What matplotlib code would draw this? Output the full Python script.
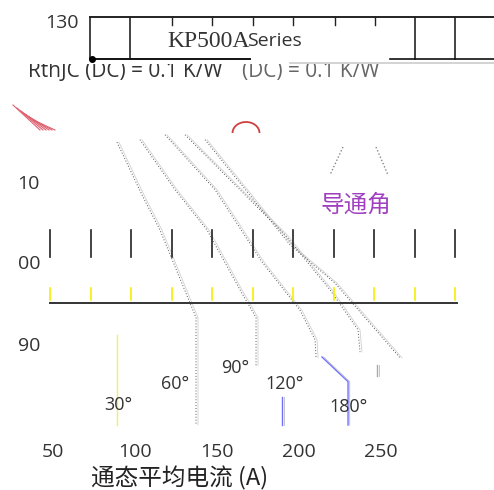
import matplotlib.pyplot as plt
from matplotlib.patches import Arc, Rectangle

plt.rcParams['font.family'] = ['Noto Sans CJK SC', 'DejaVu Sans']

# derating curves: average current (A) vs case temperature (°C)
angles = ["60°", "90°", "120°", "180°", "DC"]
curve_a = [
    [89.0, 104.9, 115.2, 133.5, 137.2, 137.2],
    [103.0, 124.4, 143.9, 164.0, 173.8, 173.8],
    [118.3, 148.8, 177.4, 200.6, 209.8, 210.4],
    [130.5, 164.0, 191.5, 218.9, 236.0, 237.2],
    [142.7, 194.5, 222.0, 261.6],
]
curve_t = [
    [115.1, 108.4, 104.4, 95.5, 93.7, 80.6],
    [115.4, 109.3, 104.4, 97.1, 93.7, 87.9],
    [116.0, 109.3, 100.5, 94.6, 91.0, 88.8],
    [116.0, 109.3, 103.8, 97.1, 92.2, 89.5],
    [115.4, 102.6, 97.9, 88.8],
]

# broken fragments near the bottom
frag_a = [[214.0, 229.9, 229.9], [189.6, 189.6], [89.0, 89.0], [247.6, 247.6]]
frag_t = [[88.9, 85.9, 80.6], [84.0, 80.6], [91.6, 80.6], [87.9, 86.6]]
frag_c = ["#7070ff", "#7070ff", "#f0f060", "#aaaaaa"]

angle_labels = ["30°", "60°", "90°", "120°", "180°"]
angle_lab_a = [89.6, 124.4, 161.0, 191.2, 229.9]
angle_lab_t = [83.1, 85.6, 87.6, 85.6, 82.8]

x_ticks = [50, 100, 150, 200, 250]
y_ticks = ["130", "10", "00", "90"]
y_tick_t = [129.6, 110.0, 100.2, 90.2]

x0, x1 = 17.68, 318.9
y0, y1 = 72.68, 132.44


def px(x):
    return x0 + (x1 - x0) * x / 494


def py(y):
    return y1 - (y1 - y0) * y / 490


fig = plt.figure(figsize=(4.94, 4.90), dpi=100)
ax = fig.add_axes([0, 0, 1, 1])
ax.set_xlim(x0, x1)
ax.set_ylim(y0, y1)
ax.axis('off')

# curves: dotted dark line plus a faint parallel line
for a, t in zip(curve_a, curve_t):
    ax.plot(a, t, color="#555555", lw=0.7, ls=(0, (1, 2)), zorder=3)
    ax.plot([v + 1.2 for v in a], t, color="#d0d0d0", lw=0.6, zorder=2)

for a, t, c in zip(frag_a, frag_t, frag_c):
    ax.plot(a, t, color=c, lw=1.0, zorder=2)
    if c != "#f0f060":
        ax.plot([v + 1.0 for v in a], t, color="#bbbbbb", lw=0.6, zorder=2)

# top frame pieces
ax.plot([px(90), px(494)], [py(17), py(17)], color="#222222", lw=1.4, zorder=4)
for x in [90, 130, 415, 455]:
    ax.plot([px(x), px(x)], [py(17), py(59)], color="#222222", lw=1.2, zorder=4)
for x in [172, 212, 253, 293, 335, 375]:
    ax.plot([px(x), px(x)], [py(17), py(25)], color="#222222", lw=1.0, zorder=4)
ax.plot([px(90), px(250)], [py(59), py(59)], color="#111111", lw=1.4, zorder=4)
ax.plot([px(390), px(494)], [py(59), py(59)], color="#111111", lw=1.2, zorder=4)
ax.plot([px(290), px(494)], [py(63), py(63)], color="#cccccc", lw=1.2, zorder=4)
ax.plot([px(92)], [py(59)], "o", color="black", ms=4, zorder=5)

# tick rows and horizontal line
tick_px = [50 + 40.5 * i for i in range(11)]
for x in tick_px:
    ax.plot([px(x), px(x)], [py(230), py(257)], color="#222222", lw=1.2, zorder=4)
    ax.plot([px(x), px(x)], [py(288), py(300)], color="#f4f000", lw=1.2, zorder=4)
ax.plot([px(50), px(457)], [py(303), py(303)], color="#333333", lw=1.4, zorder=4)

# titles
ax.text(px(167), py(41), "KP500A", family="Liberation Serif", fontsize=17,
        color="#333333", va="center", ha="left", zorder=3)
ax.text(px(247), py(41), "Series", family="Open Sans", fontsize=14,
        color="#333333", va="center", ha="left", zorder=3)
ax.text(px(28), py(72), "RthJC (DC) = 0.1 K/W", family="Open Sans", fontsize=15,
        color="#333333", va="center", ha="left", zorder=1)
ax.text(px(242), py(72), "(DC) = 0.1 K/W", family="Open Sans", fontsize=15,
        color="#666666", va="center", ha="left", zorder=1)
ax.add_patch(Rectangle((px(20), py(64)), px(494) - px(20), py(51) - py(64),
                       facecolor="white", edgecolor="none", zorder=2))

# waveform icons
ax.add_patch(Arc((px(246), py(133)), px(273) - px(246), py(111) - py(133),
                 theta1=0, theta2=180, color="#d04040", lw=1.3, zorder=3))
ax.plot([px(343), px(330)], [py(147), py(175)], color="#888888", lw=1, ls=(0, (1, 1.5)))
ax.plot([px(376), px(388)], [py(147), py(175)], color="#888888", lw=1, ls=(0, (1, 1.5)))
ax.text(px(356), py(205), "导通角", fontsize=17, color="#a040c0",
        ha="center", va="center")
for i in range(6):
    ax.plot([px(13 + i * 4), px(40 + i * 3)], [py(105 + i * 3), py(130)],
            color="#e06070", lw=0.8)

# tick labels
for v in x_ticks:
    ax.text(v, py(452), str(v), fontsize=14, color="#333333",
            ha="center", va="center", family="Open Sans")
for lab, t in zip(y_ticks, y_tick_t):
    xr = px(79) if lab == "130" else px(40)
    ax.text(xr, t, lab, fontsize=14, color="#333333",
            ha="right", va="center", family="Open Sans")
for lab, a, t in zip(angle_labels, angle_lab_a, angle_lab_t):
    ax.text(a, t, lab, fontsize=13, color="#333333",
            ha="center", va="center", family="Open Sans")

ax.text(px(180), py(478), "通态平均电流 (A)", fontsize=17, color="#222222",
        ha="center", va="center")

fig.savefig("out.png", dpi=100)
